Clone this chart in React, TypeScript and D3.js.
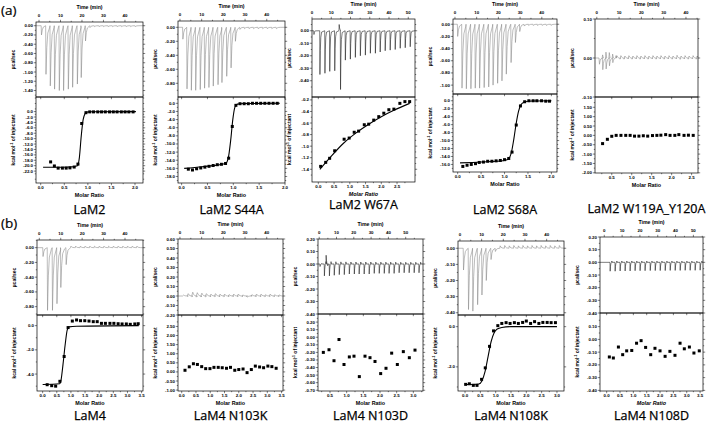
import React from 'react';
import * as d3 from 'd3';

// ================= DATA =================
// ---- tick sets ----
const timeTicks45 = [0, 10, 20, 30, 40];
const timeTicks55 = [0, 10, 20, 30, 40, 50];

// ---- (a) LaM2 ----
const lam2PeakTime = [1.0, 3.1, 5.1, 7.1, 9.3, 11.3, 13.5, 15.5, 17.7, 19.5, 21.5, 23.6, 25.7, 27.8, 29.9, 32.0, 34.1, 36.2, 38.3, 40.4, 42.5, 44.6];
const lam2PeakHeat = [-0.2, -1.05, -1.3, -1.37, -1.4, -1.4, -1.37, -1.33, -1.26, -1.12, -0.33, -0.04, -0.02, -0.02, -0.02, -0.02, -0.02, -0.02, -0.02, -0.02, -0.02, -0.02];
const lam2HeatTicks = [0, -0.2, -0.4, -0.6, -0.8, -1.0, -1.2, -1.4];
const lam2Ratio = [0.21, 0.29, 0.37, 0.46, 0.54, 0.62, 0.71, 0.79, 0.87, 0.96, 1.04, 1.12, 1.21, 1.29, 1.37, 1.46, 1.54, 1.62, 1.71, 1.79, 1.87, 1.96];
const lam2Enthalpy = [-18.6, -20.1, -20.9, -20.9, -20.9, -20.8, -20.5, -19.4, -4.4, -0.4, -0.1, -0.1, -0.1, -0.1, -0.1, -0.1, -0.1, -0.1, -0.1, -0.1, -0.1, -0.1];
const lam2FitRatio = [0.05, 0.3, 0.6, 0.78, 0.82, 0.86, 0.9, 0.94, 0.98, 1.05, 2.02];
const lam2FitEnthalpy = [-20.6, -20.6, -20.5, -20.0, -17, -9, -3, -0.8, -0.2, -0.05, 0];
const lam2EnthalpyTicks = [0, -2, -4, -6, -8, -10, -12, -14, -16, -18, -20, -22];
const ratioTicks20 = [0, 0.5, 1.0, 1.5, 2.0];

// ---- (a) LaM2 S44A ----
const s44aPeakTime = [1.2, 3.1, 5.1, 7.1, 9.2, 11.2, 13.2, 15.2, 17.4, 19.2, 21.4, 23.4, 25.4, 27.5, 29.6, 31.7, 33.8, 35.9, 38.0, 40.1, 42.2, 44.3];
const s44aPeakHeat = [-0.17, -0.88, -0.9, -0.9, -0.89, -0.87, -0.86, -0.84, -0.82, -0.79, -0.7, -0.58, -0.2, -0.03, -0.02, -0.02, -0.02, -0.02, -0.02, -0.02, -0.02, -0.02];
const s44aHeatTicks = [0, -0.2, -0.4, -0.6, -0.8];
const s44aRatio = [0.13, 0.21, 0.29, 0.37, 0.45, 0.53, 0.61, 0.69, 0.77, 0.85, 0.91, 0.98, 1.05, 1.13, 1.21, 1.29, 1.37, 1.45, 1.53, 1.61, 1.69, 1.77, 1.85];
const s44aEnthalpy = [-16.2, -16.4, -16.1, -15.9, -15.7, -15.5, -15.3, -15.1, -15.0, -14.8, -13.5, -5.7, -0.5, -0.1, -0.1, -0.1, 0, 0, 0, 0, 0, 0, 0];
const s44aFitRatio = [0.05, 0.4, 0.85, 0.9, 0.95, 0.99, 1.03, 1.08, 1.2, 1.9];
const s44aFitEnthalpy = [-16.0, -15.6, -14.8, -13.6, -9, -4, -1, -0.2, -0.05, 0];
const s44aEnthalpyTicks = [0, -2, -4, -6, -8, -10, -12, -14, -16, -18];

// ---- (a) LaM2 W67A ----
const w67aPeakTime = [0.9, 4.0, 6.6, 9.1, 11.7, 14.0, 14.7, 17.2, 19.8, 22.4, 25.0, 27.6, 30.2, 32.8, 35.3, 37.9, 40.5, 43.1, 45.7, 48.3, 50.9];
const w67aPeakHeat = [-0.03, -0.35, -0.34, -0.325, -0.32, 0.05, -0.47, -0.235, -0.227, -0.213, -0.2, -0.195, -0.18, -0.18, -0.17, -0.16, -0.155, -0.15, -0.14, -0.136, -0.128];
const w67aHeatTicks = [0, -0.1, -0.2, -0.3, -0.4];
const w67aRatio = [0.075, 0.235, 0.36, 0.52, 0.82, 0.98, 1.14, 1.28, 1.46, 1.6, 1.76, 1.92, 2.08, 2.24, 2.4, 2.59, 2.75, 2.9];
const w67aEnthalpy = [-1.35, -1.28, -1.21, -1.08, -0.88, -0.86, -0.76, -0.74, -0.63, -0.62, -0.55, -0.49, -0.43, -0.37, -0.36, -0.26, -0.23, -0.23];
const w67aFitRatio = [0.05, 0.4, 0.8, 1.2, 1.6, 2.0, 2.4, 2.9];
const w67aFitEnthalpy = [-1.4, -1.18, -0.95, -0.77, -0.62, -0.49, -0.38, -0.26];
const w67aEnthalpyTicks = [-0.2, -0.4, -0.6, -0.8, -1.0, -1.2, -1.4];
const ratioTicks25 = [0, 0.5, 1.0, 1.5, 2.0, 2.5];

// ---- (a) LaM2 S68A ----
const s68aPeakTime = [1.1, 3.1, 5.1, 7.2, 9.2, 11.2, 13.3, 15.4, 17.4, 19.5, 21.5, 23.5, 25.7, 27.7, 29.7, 31.8, 33.8, 35.9, 37.9, 40.0, 42.0, 44.1];
const s68aPeakHeat = [-0.2, -1.05, -1.06, -1.06, -1.05, -1.05, -1.04, -1.03, -1.0, -0.97, -0.93, -0.82, -0.63, -0.3, -0.12, -0.03, -0.02, -0.02, -0.02, -0.02, -0.02, -0.02];
const s68aHeatTicks = [0, -0.2, -0.4, -0.6, -0.8, -1.0];
const s68aRatio = [0.11, 0.2, 0.29, 0.38, 0.46, 0.55, 0.64, 0.73, 0.82, 0.91, 1.0, 1.09, 1.16, 1.25, 1.34, 1.43, 1.52, 1.61, 1.69, 1.79, 1.88, 1.96];
const s68aEnthalpy = [-16.5, -16.2, -16.0, -15.8, -15.5, -15.4, -15.2, -15.2, -15.1, -15.0, -14.8, -14.5, -12.9, -6.1, -1.3, -0.25, 0, 0, 0, 0, -0.1, -0.1];
const s68aFitRatio = [0.05, 0.5, 1.0, 1.1, 1.15, 1.2, 1.25, 1.3, 1.35, 1.42, 1.5, 1.6, 2.0];
const s68aFitEnthalpy = [-15.6, -15.4, -15.0, -14.4, -12.8, -9.5, -5.6, -2.6, -1.0, -0.35, -0.12, -0.05, 0];
const s68aEnthalpyTicks = [0, -2, -4, -6, -8, -10, -12, -14, -16];

// ---- (a) LaM2 W119A_Y120A ----
const w119PeakTime = [1.0, 2.5, 4.0, 5.5, 7.0, 8.8, 10.6, 12.4, 14.2, 16.0, 17.8, 19.6, 21.4, 23.2, 25.0, 26.8, 28.6, 30.4, 32.2, 34.0, 35.8, 37.6, 39.4, 41.2, 43.0, 44.8];
const w119PeakHeat = [-0.016, -0.03, -0.028, -0.02, -0.012, 0.006, 0.006, 0.005, 0.006, 0.005, 0.006, 0.005, 0.006, 0.005, 0.006, 0.005, 0.006, 0.005, 0.006, 0.005, 0.007, 0.005, 0.006, 0.005, 0.006, 0.005];
const w119HeatTicks = [0.1, 0, -0.1];
const w119Ratio = [0.27, 0.39, 0.5, 0.61, 0.73, 0.85, 0.96, 1.07, 1.18, 1.29, 1.4, 1.52, 1.63, 1.73, 1.85, 1.96, 2.08, 2.18, 2.31, 2.42, 2.54];
const w119Enthalpy = [-0.44, -0.21, -0.05, 0.0, 0.0, 0.0, 0.0, -0.04, -0.04, -0.02, -0.04, -0.01, 0.0, 0.01, 0.04, 0.0, 0.0, 0.04, 0.0, 0.01, 0.0];
const w119EnthalpyTicks = [1.5, 1.0, 0.5, 0, -0.5, -1.0, -1.5, -2.0];
const ratioTicksW119 = [0.5, 1.0, 1.5, 2.0, 2.5];

// ---- (b) LaM4 ----
const lam4PeakTime = [1.6, 3.7, 6.0, 8.1, 9.9, 12.4, 14.6, 16.8, 19.0, 21.2, 23.4, 25.6, 27.8, 30.0, 32.2, 34.4, 36.6, 38.8, 41.0, 43.2, 45.4];
const lam4PeakHeat = [-0.12, -0.85, -0.85, -0.76, -0.54, -0.23, 0.02, 0.02, 0.02, 0.02, 0.02, 0.02, 0.02, 0.02, 0.02, 0.02, 0.02, 0.02, 0.02, 0.02, 0.02];
const lam4HeatTicks = [0, -0.2, -0.4, -0.6, -0.8];
const lam4Ratio = [0.16, 0.32, 0.46, 0.61, 0.76, 0.9, 1.05, 1.2, 1.34, 1.49, 1.64, 1.79, 1.93, 2.08, 2.22, 2.38, 2.52, 2.67, 2.81, 2.96, 3.1, 3.26, 3.38];
const lam4Enthalpy = [-4.88, -4.96, -5.0, -4.6, -2.55, -0.16, 0.38, 0.47, 0.41, 0.41, 0.38, 0.33, 0.33, 0.19, 0.19, 0.19, 0.19, 0.16, 0.14, 0.14, 0.11, 0.14, 0.16];
const lam4FitRatio = [0.0, 0.6, 0.65, 0.72, 0.8, 0.87, 0.93, 1.2, 3.4];
const lam4FitEnthalpy = [-4.86, -4.8, -4.5, -3.2, -1.5, -0.35, -0.1, -0.05, 0.0];
const lam4EnthalpyTicks = [0, -2, -4];
const ratioTicks35 = [0, 0.5, 1.0, 1.5, 2.0, 2.5, 3.0, 3.5];

// ---- (b) LaM4 N103K ----
const n103kPeakTime = [1.2, 3.3, 5.4, 7.5, 9.6, 11.7, 13.8, 15.9, 18.0, 20.1, 22.2, 24.3, 26.4, 28.5, 30.6, 32.7, 34.8, 36.9, 39.0, 41.1, 43.2, 45.3];
const n103kPeakHeat = [0.01, 0.025, 0.04, 0.035, 0.03, 0.025, 0.02, 0.025, 0.02, 0.02, 0.015, 0.02, 0.02, 0.012, -0.01, 0.015, 0.02, 0.02, 0.015, 0.02, 0.015, 0.012];
const n103kHeatTicks = [0.6, 0.5, 0.4, 0.3, 0.2, 0.1, 0, -0.1, -0.2];
const n103kRatio = [0.115, 0.265, 0.41, 0.55, 0.7, 0.84, 0.99, 1.13, 1.28, 1.42, 1.57, 1.71, 1.86, 2.0, 2.15, 2.29, 2.44, 2.58, 2.73, 2.87, 3.02, 3.16, 3.31];
const n103kEnthalpy = [0.09, 0.28, 0.45, 0.41, 0.29, 0.18, 0.18, 0.25, 0.25, 0.23, 0.2, 0.25, 0.09, 0.13, 0.16, -0.04, 0.13, 0.32, 0.27, 0.23, 0.32, 0.29, 0.2];
const n103kEnthalpyTicks = [2.5, 2.0, 1.5, 1.0, 0.5, 0, -0.5, -1.0];

// ---- (b) LaM4 N103D ----
const n103dPeakTime = [0.4, 2.9, 3.9, 5.8, 8.6, 11.5, 14.4, 17.3, 20.2, 23.0, 25.9, 28.8, 31.7, 34.6, 37.5, 40.3, 43.2, 46.1, 49.0, 51.9, 54.8, 57.6];
const n103dPeakHeat = [-0.02, -0.095, 0.07, -0.095, -0.09, -0.085, -0.085, -0.08, -0.08, -0.08, -0.08, -0.08, -0.075, -0.075, -0.075, -0.075, -0.075, -0.07, -0.07, -0.07, -0.07, -0.07];
const n103dHeatTicks = [0.2, 0.1, 0, -0.1, -0.2, -0.3, -0.4];
const n103dRatio = [0.3, 0.47, 0.62, 0.77, 0.92, 1.08, 1.22, 1.38, 1.55, 1.7, 1.85, 2.02, 2.18, 2.35, 2.52, 2.7, 2.88, 3.05];
const n103dEnthalpy = [-0.2, -0.165, -0.31, -0.03, -0.36, -0.26, -0.25, -0.52, -0.25, -0.27, -0.32, -0.48, -0.41, -0.21, -0.36, -0.19, -0.27, -0.17];
const n103dEnthalpyTicks = [0.2, 0.1, 0, -0.1, -0.2, -0.3, -0.4, -0.5, -0.6, -0.7];
const ratioTicksN103D = [0.5, 1.0, 1.5, 2.0, 2.5, 3.0];

// ---- (b) LaM4 N108K ----
const n108kPeakTime = [1.5, 3.8, 5.8, 8.0, 10.0, 12.0, 14.2, 16.2, 18.4, 20.5, 22.6, 24.7, 26.8, 28.9, 31.0, 33.1, 35.2, 37.3, 39.4, 41.5, 43.6, 45.7];
const n108kPeakHeat = [-0.135, -0.38, -0.39, -0.35, -0.29, -0.2, -0.07, -0.02, 0.015, 0.017, 0.015, 0.017, 0.015, 0.017, 0.015, 0.017, 0.015, 0.017, 0.015, 0.017, 0.015, 0.017];
const n108kHeatTicks = [0, -0.1, -0.2, -0.3, -0.4];
const n108kRatio = [0.02, 0.14, 0.27, 0.39, 0.54, 0.66, 0.8, 0.93, 1.07, 1.2, 1.34, 1.47, 1.61, 1.74, 1.88, 2.0, 2.14, 2.27, 2.41, 2.54, 2.68, 2.81, 2.95];
const n108kEnthalpy = [-2.87, -2.84, -2.92, -2.92, -2.62, -2.05, -0.98, -0.21, 0.05, 0.16, 0.2, 0.16, 0.2, 0.16, 0.21, 0.28, 0.16, 0.25, 0.16, 0.21, 0.21, 0.2, 0.2];
const n108kFitRatio = [0.0, 0.45, 0.55, 0.65, 0.75, 0.85, 0.95, 1.05, 1.2, 1.5, 3.0];
const n108kFitEnthalpy = [-2.88, -2.85, -2.7, -2.25, -1.5, -0.75, -0.3, -0.12, -0.04, 0, 0];
const n108kEnthalpyTicks = [0, -2];
const ratioTicks30 = [0, 0.5, 1.0, 1.5, 2.0, 2.5, 3.0];

// ---- (b) LaM4 N108D ----
const n108dPeakTime = [3.2, 6.0, 8.8, 11.6, 14.4, 17.2, 20.0, 22.8, 25.7, 28.5, 31.3, 34.1, 36.9, 39.7, 42.5, 45.3, 48.1, 50.9, 53.7];
const n108dPeakHeat = [-0.07, -0.07, -0.068, -0.068, -0.068, -0.066, -0.066, -0.066, -0.065, -0.065, -0.065, -0.065, -0.064, -0.064, -0.064, -0.063, -0.063, -0.063, -0.062];
const n108dHeatTicks = [0.2, 0.1, 0, -0.1, -0.2, -0.3, -0.4];
const n108dRatio = [0.1, 0.25, 0.44, 0.6, 0.75, 0.94, 1.12, 1.29, 1.46, 1.65, 1.81, 2.0, 2.19, 2.37, 2.56, 2.75, 2.91, 3.1, 3.27, 3.47];
const n108dEnthalpy = [-0.138, -0.146, -0.06, -0.12, -0.09, -0.087, -0.03, -0.01, -0.063, -0.12, -0.07, -0.09, -0.133, -0.094, -0.125, -0.03, -0.074, -0.06, -0.107, -0.09];
const n108dEnthalpyTicks = [0.1, 0, -0.1, -0.2, -0.3, -0.4];

// ================= LAYOUT / STYLE =================
type Cfg = {
  id: string; name: string; nameY: number;
  left: number; right: number; top: number; mid: number; bottom: number;
  tDomain: [number, number]; tTicks: number[];
  hDomain: [number, number]; hTicks: number[]; hDec: number;
  peakT: number[]; peakH: number[]; color: string; width: number; rebound: number; drop: number;
  rDomain: [number, number]; rTicks: number[];
  eDomain: [number, number]; eTicks: number[]; eDec: number;
  ratio: number[]; enthalpy: number[];
  fitR?: number[]; fitE?: number[]; italic?: boolean;
};

const GREY = '#858585';
const BLACK = '#111';

const panels: Cfg[] = [
  { id: 'a1', name: 'LaM2', nameY: 214, left: 36, right: 143, top: 22, mid: 97, bottom: 183,
    tDomain: [-1.4, 48.4], tTicks: timeTicks45, hDomain: [-1.54, 0.08], hTicks: lam2HeatTicks, hDec: 2,
    peakT: lam2PeakTime, peakH: lam2PeakHeat, color: GREY, width: 1.9, rebound: 0, drop: 0.15,
    rDomain: [-0.1, 2.17], rTicks: ratioTicks20, eDomain: [-26.4, 5.4], eTicks: lam2EnthalpyTicks, eDec: 1,
    ratio: lam2Ratio, enthalpy: lam2Enthalpy, fitR: lam2FitRatio, fitE: lam2FitEnthalpy },
  { id: 'a2', name: 'LaM2 S44A', nameY: 214, left: 178, right: 285, top: 21, mid: 97, bottom: 183,
    tDomain: [-0.9, 48.4], tTicks: timeTicks45, hDomain: [-0.996, 0.09], hTicks: s44aHeatTicks, hDec: 2,
    peakT: s44aPeakTime, peakH: s44aPeakHeat, color: GREY, width: 1.9, rebound: 0, drop: 0.15,
    rDomain: [-0.07, 2.0], rTicks: ratioTicks20, eDomain: [-19.6, 1.55], eTicks: s44aEnthalpyTicks, eDec: 1,
    ratio: s44aRatio, enthalpy: s44aEnthalpy, fitR: s44aFitRatio, fitE: s44aFitEnthalpy },
  { id: 'a3', name: 'LaM2 W67A', nameY: 209, left: 312, right: 415, top: 19, mid: 97, bottom: 182,
    tDomain: [0, 53.5], tTicks: timeTicks55, hDomain: [-0.53, 0.094], hTicks: w67aHeatTicks, hDec: 2,
    peakT: w67aPeakTime, peakH: w67aPeakHeat, color: BLACK, width: 1.0, rebound: 0, drop: 0.12,
    rDomain: [-0.2, 3.07], rTicks: ratioTicks25, eDomain: [-1.62, -0.15], eTicks: w67aEnthalpyTicks, eDec: 1,
    ratio: w67aRatio, enthalpy: w67aEnthalpy, fitR: w67aFitRatio, fitE: w67aFitEnthalpy, italic: true },
  { id: 'a4', name: 'LaM2 S68A', nameY: 214, left: 453, right: 557, top: 19, mid: 94, bottom: 172,
    tDomain: [-0.9, 47], tTicks: timeTicks45, hDomain: [-1.146, 0.086], hTicks: s68aHeatTicks, hDec: 2,
    peakT: s68aPeakTime, peakH: s68aPeakHeat, color: GREY, width: 1.9, rebound: 0, drop: 0.15,
    rDomain: [-0.1, 2.12], rTicks: ratioTicks20, eDomain: [-17.9, 1.7], eTicks: s68aEnthalpyTicks, eDec: 1,
    ratio: s68aRatio, enthalpy: s68aEnthalpy, fitR: s68aFitRatio, fitE: s68aFitEnthalpy },
  { id: 'a5', name: 'LaM2 W119A_Y120A', nameY: 213, left: 595, right: 698, top: 19, mid: 97, bottom: 173,
    tDomain: [-0.8, 45.4], tTicks: timeTicks45, hDomain: [-0.1, 0.1], hTicks: w119HeatTicks, hDec: 2,
    peakT: w119PeakTime, peakH: w119PeakHeat, color: GREY, width: 1.4, rebound: 0.5, drop: 0.2,
    rDomain: [0.08, 2.66], rTicks: ratioTicksW119, eDomain: [-2.01, 2.05], eTicks: w119EnthalpyTicks, eDec: 2,
    ratio: w119Ratio, enthalpy: w119Enthalpy },
  { id: 'b1', name: 'LaM4', nameY: 420, left: 37, right: 143, top: 240, mid: 315, bottom: 391,
    tDomain: [-1.07, 48.4], tTicks: timeTicks45, hDomain: [-0.913, 0.104], hTicks: lam4HeatTicks, hDec: 2,
    peakT: lam4PeakTime, peakH: lam4PeakHeat, color: GREY, width: 1.9, rebound: 0, drop: 0.15,
    rDomain: [-0.2, 3.55], rTicks: ratioTicks35, eDomain: [-5.4, 0.88], eTicks: lam4EnthalpyTicks, eDec: 1,
    ratio: lam4Ratio, enthalpy: lam4Enthalpy, fitR: lam4FitRatio, fitE: lam4FitEnthalpy },
  { id: 'b2', name: 'LaM4 N103K', nameY: 420, left: 178, right: 283, top: 239, mid: 315, bottom: 391,
    tDomain: [-0.9, 47.5], tTicks: timeTicks45, hDomain: [-0.2, 0.6], hTicks: n103kHeatTicks, hDec: 2,
    peakT: n103kPeakTime, peakH: n103kPeakHeat, color: GREY, width: 1.9, rebound: 0.3, drop: 0.5,
    rDomain: [-0.13, 3.55], rTicks: ratioTicks35, eDomain: [-1.05, 3.13], eTicks: n103kEnthalpyTicks, eDec: 2,
    ratio: n103kRatio, enthalpy: n103kEnthalpy },
  { id: 'b3', name: 'LaM4 N103D', nameY: 420, left: 318, right: 423, top: 239, mid: 314, bottom: 391,
    tDomain: [-0.7, 60], tTicks: timeTicks55, hDomain: [-0.4, 0.2], hTicks: n103dHeatTicks, hDec: 2,
    peakT: n103dPeakTime, peakH: n103dPeakHeat, color: BLACK, width: 0.9, rebound: 0.2, drop: 0.1,
    rDomain: [0.14, 3.29], rTicks: ratioTicksN103D, eDomain: [-0.71, 0.307], eTicks: n103dEnthalpyTicks, eDec: 2,
    ratio: n103dRatio, enthalpy: n103dEnthalpy },
  { id: 'b4', name: 'LaM4 N108K', nameY: 420, left: 458, right: 564, top: 241, mid: 315, bottom: 391,
    tDomain: [-0.9, 48], tTicks: timeTicks45, hDomain: [-0.414, 0.045], hTicks: n108kHeatTicks, hDec: 2,
    peakT: n108kPeakTime, peakH: n108kPeakHeat, color: GREY, width: 1.9, rebound: 0, drop: 0.15,
    rDomain: [-0.23, 3.23], rTicks: ratioTicks30, eDomain: [-3.2, 0.58], eTicks: n108kEnthalpyTicks, eDec: 1,
    ratio: n108kRatio, enthalpy: n108kEnthalpy, fitR: n108kFitRatio, fitE: n108kFitEnthalpy },
  { id: 'b5', name: 'LaM4 N108D', nameY: 420, left: 600, right: 703, top: 237, mid: 313, bottom: 391,
    tDomain: [-2.4, 55.4], tTicks: timeTicks55, hDomain: [-0.4, 0.2], hTicks: n108dHeatTicks, hDec: 2,
    peakT: n108dPeakTime, peakH: n108dPeakHeat, color: BLACK, width: 0.9, rebound: 0.15, drop: 0.1,
    rDomain: [-0.25, 3.61], rTicks: ratioTicks35, eDomain: [-0.405, 0.207], eTicks: n108dEnthalpyTicks, eDec: 2,
    ratio: n108dRatio, enthalpy: n108dEnthalpy, italic: true },
];

const TICK_FONT = '"Liberation Sans", Arial, sans-serif';
const NAME_FONT = '"Open Sans", "Noto Sans", sans-serif';

function fmt(v: number, dec: number) {
  const x = Math.abs(v) < 1e-9 ? 0 : v;
  return x.toFixed(dec);
}

function minorOf(ticks: number[], domain: [number, number]) {
  const s = [...ticks].sort((a, b) => a - b);
  const lo = Math.min(domain[0], domain[1]);
  const hi = Math.max(domain[0], domain[1]);
  const out: number[] = [];
  if (s.length < 2) return out;
  const step = s[1] - s[0];
  for (let v = s[0] - step / 2; v >= lo; v -= step) out.push(v);
  for (let i = 0; i < s.length - 1; i++) out.push((s[i] + s[i + 1]) / 2);
  for (let v = s[s.length - 1] + step / 2; v <= hi; v += step) out.push(v);
  return out.filter((v) => v >= lo && v <= hi);
}

function buildTrace(c: Cfg): [number, number][] {
  const order = d3.range(c.peakT.length).sort((a, b) => c.peakT[a] - c.peakT[b]);
  const pts: [number, number][] = [[c.tDomain[0], 0]];
  const w = c.width;
  order.forEach((i) => {
    const t = c.peakT[i];
    const a = c.peakH[i];
    pts.push([t, 0], [t + c.drop, a], [t + c.drop + 0.2 * w, a * 0.45], [t + c.drop + 0.45 * w, a * 0.15], [t + w, a * 0.03]);
    if (c.rebound > 0) pts.push([t + w * 1.15, -a * c.rebound], [t + w * 1.4, 0]);
  });
  pts.push([c.tDomain[1], 0]);
  return pts;
}

function Panel({ c }: { c: Cfg }) {
  const t = d3.scaleLinear().domain(c.tDomain).range([c.left, c.right]);
  const h = d3.scaleLinear().domain(c.hDomain).range([c.mid, c.top]);
  const r = d3.scaleLinear().domain(c.rDomain).range([c.left, c.right]);
  const e = d3.scaleLinear().domain(c.eDomain).range([c.bottom, c.mid]);
  const trace = d3.line<[number, number]>().x((d) => t(d[0])).y((d) => h(d[1]))(buildTrace(c)) || '';
  const fit = c.fitR && c.fitE
    ? d3.line<number>().x((d) => r(d)).y((_, i) => e(c.fitE![i])).curve(d3.curveMonotoneX)(c.fitR) || ''
    : '';
  const within = (d: [number, number]) => (v: number) => v >= Math.min(...d) - 1e-6 && v <= Math.max(...d) + 1e-6;
  const tTicks = c.tTicks.filter(within(c.tDomain));
  const rTicks = c.rTicks.filter(within(c.rDomain));
  const hTicks = c.hTicks.filter(within(c.hDomain));
  const eTicks = c.eTicks.filter(within(c.eDomain));
  const tMinor = minorOf(c.tTicks, c.tDomain);
  const rMinor = minorOf(c.rTicks, c.rDomain);
  const hMinor = minorOf(c.hTicks, c.hDomain);
  const eMinor = minorOf(c.eTicks, c.eDomain);
  const cx = (c.left + c.right) / 2;
  const fs = 4.4;
  const stroke = 0.7;
  const M = 2.2;
  const m = 1.2;
  return (
    <g>
      <defs>
        <clipPath id={`clip-top-${c.id}`}>
          <rect x={c.left} y={c.top} width={c.right - c.left} height={c.mid - c.top} />
        </clipPath>
        <clipPath id={`clip-bot-${c.id}`}>
          <rect x={c.left} y={c.mid} width={c.right - c.left} height={c.bottom - c.mid} />
        </clipPath>
      </defs>
      <path d={trace} fill="none" stroke={c.color} strokeWidth={0.55} clipPath={`url(#clip-top-${c.id})`} />
      <rect x={c.left} y={c.top} width={c.right - c.left} height={c.mid - c.top} fill="none" stroke="#000" strokeWidth={stroke} />
      <rect x={c.left} y={c.mid} width={c.right - c.left} height={c.bottom - c.mid} fill="none" stroke="#000" strokeWidth={stroke} />
      <g clipPath={`url(#clip-bot-${c.id})`}>
        {fit && <path d={fit} fill="none" stroke="#000" strokeWidth={1.1} />}
        {c.ratio.map((x, i) => (
          <rect key={i} x={r(x) - 1.5} y={e(c.enthalpy[i]) - 1.5} width={3} height={3} fill="#000" />
        ))}
      </g>
      {tTicks.map((v) => (
        <line key={'tt' + v} x1={t(v)} x2={t(v)} y1={c.top} y2={c.top - M} stroke="#000" strokeWidth={0.5} />
      ))}
      {tMinor.map((v, i) => (
        <line key={'tm' + i} x1={t(v)} x2={t(v)} y1={c.top} y2={c.top - m} stroke="#000" strokeWidth={0.5} />
      ))}
      {tTicks.map((v) => (
        <text key={'tl' + v} x={t(v)} y={c.top - 5} fontSize={fs} textAnchor="middle" fontFamily={TICK_FONT} fontWeight="bold">{v}</text>
      ))}
      <text x={cx} y={c.top - 13.5} fontSize={5.2} textAnchor="middle" fontFamily={TICK_FONT} fontWeight="bold">Time (min)</text>
      {hTicks.map((v) => (
        <g key={'ht' + v}>
          <line x1={c.left} x2={c.left - M} y1={h(v)} y2={h(v)} stroke="#000" strokeWidth={0.5} />
          <line x1={c.right} x2={c.right + M} y1={h(v)} y2={h(v)} stroke="#000" strokeWidth={0.5} />
          <text x={c.left - 3} y={h(v) + 1.5} fontSize={fs} textAnchor="end" fontFamily={TICK_FONT} fontWeight="bold">{fmt(v, c.hDec)}</text>
        </g>
      ))}
      {hMinor.map((v, i) => (
        <g key={'hm' + i}>
          <line x1={c.left} x2={c.left - m} y1={h(v)} y2={h(v)} stroke="#000" strokeWidth={0.5} />
          <line x1={c.right} x2={c.right + m} y1={h(v)} y2={h(v)} stroke="#000" strokeWidth={0.5} />
        </g>
      ))}
      <text transform={`translate(${c.left - 21},${(c.top + c.mid) / 2}) rotate(-90)`} fontSize={5} textAnchor="middle" fontFamily={TICK_FONT} fontWeight="bold">µcal/sec</text>
      {eTicks.map((v) => (
        <g key={'et' + v}>
          <line x1={c.left} x2={c.left - M} y1={e(v)} y2={e(v)} stroke="#000" strokeWidth={0.5} />
          <line x1={c.right} x2={c.right + M} y1={e(v)} y2={e(v)} stroke="#000" strokeWidth={0.5} />
          <text x={c.left - 3} y={e(v) + 1.5} fontSize={fs} textAnchor="end" fontFamily={TICK_FONT} fontWeight="bold">{fmt(v, c.eDec)}</text>
        </g>
      ))}
      {eMinor.map((v, i) => (
        <g key={'em' + i}>
          <line x1={c.left} x2={c.left - m} y1={e(v)} y2={e(v)} stroke="#000" strokeWidth={0.5} />
          <line x1={c.right} x2={c.right + m} y1={e(v)} y2={e(v)} stroke="#000" strokeWidth={0.5} />
        </g>
      ))}
      <text transform={`translate(${c.left - 21},${(c.mid + c.bottom) / 2}) rotate(-90)`} fontSize={5} textAnchor="middle" fontFamily={TICK_FONT} fontWeight="bold">
        kcal mol<tspan dy={-1.6} fontSize={3.4}>-1</tspan><tspan dy={1.6}> of injectant</tspan>
      </text>
      {rTicks.map((v) => (
        <g key={'rt' + v}>
          <line x1={r(v)} x2={r(v)} y1={c.bottom} y2={c.bottom + M} stroke="#000" strokeWidth={0.5} />
          <line x1={r(v)} x2={r(v)} y1={c.mid} y2={c.mid + M} stroke="#000" strokeWidth={0.5} />
          <text x={r(v)} y={c.bottom + 6.3} fontSize={fs} textAnchor="middle" fontFamily={TICK_FONT} fontWeight="bold">{fmt(v, 1)}</text>
        </g>
      ))}
      {rMinor.map((v, i) => (
        <line key={'rm' + i} x1={r(v)} x2={r(v)} y1={c.bottom} y2={c.bottom + m} stroke="#000" strokeWidth={0.5} />
      ))}
      <text x={cx} y={c.bottom + 14} fontSize={5.4} textAnchor="middle" fontFamily={TICK_FONT} fontWeight="bold" fontStyle={c.italic ? 'italic' : 'normal'}>Molar Ratio</text>
      <text x={cx} y={c.nameY} fontSize={12.5} textAnchor="middle" fontFamily={NAME_FONT} fill="#000" stroke="#000" strokeWidth={0.25}>{c.name}</text>
    </g>
  );
}

export default function App() {
  return (
    <svg width={709} height={424} viewBox="0 0 709 424" style={{ position: 'absolute', left: 0, top: 0, background: '#fff' }}>
      <rect x={0} y={0} width={709} height={424} fill="#fff" />
      <text x={1} y={15} fontSize={13.5} fontFamily={NAME_FONT} fill="#000" stroke="#000" strokeWidth={0.2}>(a)</text>
      <text x={1} y={228} fontSize={13.5} fontFamily={NAME_FONT} fill="#000" stroke="#000" strokeWidth={0.2}>(b)</text>
      {panels.map((c) => (
        <Panel key={c.id} c={c} />
      ))}
    </svg>
  );
}
